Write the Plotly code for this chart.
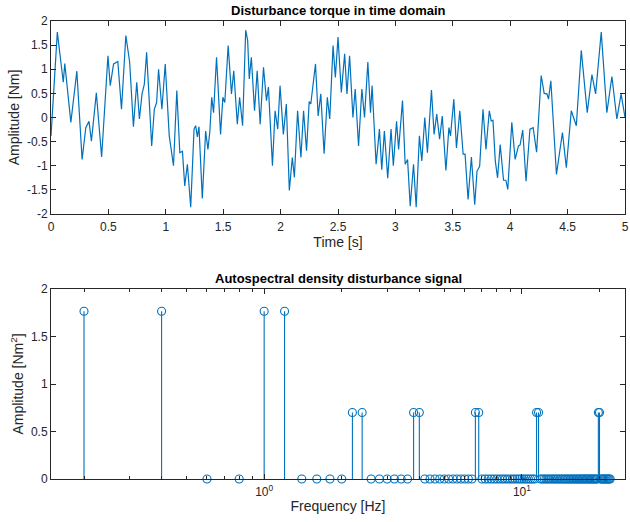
import plotly.graph_objects as go

# ---------------- data: time domain ----------------
time_s = [
    0.000, 0.055, 0.107, 0.120, 0.173, 0.225, 0.271, 0.303, 0.331, 0.352,
    0.395, 0.441, 0.496, 0.516, 0.545, 0.582, 0.614, 0.652, 0.685, 0.718,
    0.747, 0.770, 0.793, 0.813, 0.833, 0.877, 0.900, 0.920, 0.937, 0.966,
    0.995, 1.030, 1.067, 1.096, 1.122, 1.145, 1.165, 1.188, 1.217, 1.246,
    1.260, 1.275, 1.289, 1.318, 1.347, 1.367, 1.384, 1.400, 1.416, 1.442,
    1.477, 1.497, 1.514, 1.543, 1.572, 1.592, 1.623, 1.643, 1.669, 1.696,
    1.713, 1.727, 1.745, 1.773, 1.796, 1.822, 1.851, 1.877, 1.894, 1.929,
    1.952, 1.975, 1.995, 2.024, 2.050, 2.076, 2.102, 2.120, 2.148, 2.177,
    2.200, 2.226, 2.249, 2.263, 2.304, 2.327, 2.350, 2.379, 2.407, 2.428,
    2.457, 2.477, 2.500, 2.529, 2.558, 2.578, 2.601, 2.630, 2.650, 2.679,
    2.708, 2.731, 2.760, 2.783, 2.797, 2.832, 2.861, 2.881, 2.904, 2.933,
    2.962, 2.982, 3.010, 3.028, 3.062, 3.085, 3.106, 3.129, 3.158, 3.181,
    3.209, 3.230, 3.256, 3.279, 3.314, 3.337, 3.360, 3.385, 3.408, 3.440,
    3.466, 3.480, 3.509, 3.532, 3.561, 3.590, 3.607, 3.633, 3.662, 3.691,
    3.711, 3.734, 3.763, 3.789, 3.818, 3.835, 3.850, 3.870, 3.890, 3.913,
    3.942, 3.962, 3.979, 4.014, 4.043, 4.072, 4.086, 4.109, 4.138, 4.172,
    4.200, 4.230, 4.270, 4.296, 4.320, 4.334, 4.354, 4.403, 4.455, 4.489,
    4.532, 4.576, 4.619, 4.671, 4.712, 4.744, 4.793, 4.842, 4.886, 4.929,
    4.966, 5.000,
]
torque_nm = [
    -0.38, 1.77, 0.73, 1.12, -0.10, 0.96, -0.87, -0.21, -0.08, -0.49,
    0.51, -0.82, 1.28, 0.66, 1.11, 1.16, 0.17, 1.70, 1.15, -0.19,
    0.73, -0.03, 0.49, 0.69, 1.35, -0.59, 0.17, 0.31, 1.00, 0.17,
    1.11, -0.38, -1.00, 0.56, -0.73, -0.70, -1.42, -0.97, -1.86, -0.24,
    -0.17, -0.40, -0.19, -1.68, -0.28, -0.66, -0.28, 0.42, 0.10, 1.25,
    -0.35, 0.42, 0.31, 1.49, 0.49, 0.97, -0.14, 0.42, -0.17, 1.81,
    1.60, 0.80, 1.25, 0.14, 0.97, -0.14, 1.04, 0.35, 0.63, -1.00,
    0.14, -0.24, 0.66, -0.35, 0.28, -1.51, -0.83, -1.24, 0.14, -0.83,
    0.14, -0.69, 0.33, 0.28, 1.11, 0.03, 0.49, -0.75, 0.42, -0.03,
    1.49, 0.83, 1.67, 0.52, 1.32, 0.49, 1.28, 0.00, 0.59, -0.59,
    0.59, 0.00, 1.15, 0.10, 0.66, -0.97, -0.24, -1.08, -0.28, -1.26,
    -0.24, -1.00, -0.08, -0.66, 0.35, -0.97, -0.87, -1.84, -0.97, -1.86,
    -0.38, -0.90, 0.00, -0.73, 0.57, -0.35, 0.07, -0.45, 0.03, -1.10,
    -0.21, -0.38, 0.38, -0.63, 0.14, -0.76, -0.76, -1.70, -0.82, -1.81,
    -1.11, -1.01, 0.17, -0.66, 0.14, -0.07, -0.06, -0.90, -1.25, -0.56,
    -1.30, -1.30, -1.49, -0.10, -0.87, -0.59, -0.57, -0.26, -1.32, -0.24,
    -0.21, -0.72, 0.87, 0.50, 0.49, 0.38, 0.76, -1.18, -0.31, -1.04,
    0.14, -0.17, 1.39, 0.10, 0.89, 0.49, 1.77, 0.10, 0.85, -0.03,
    0.49, 0.00,
]

# ---------------- data: autospectral density ----------------
freq_hz = [
    0.2, 0.4, 0.6, 0.8, 1.0, 1.2, 1.4, 1.6, 1.8, 2.0,
    2.2, 2.4, 2.6, 2.8, 3.0, 3.2, 3.4, 3.6, 3.8, 4.0,
    4.2, 4.4, 4.6, 4.8, 5.0, 5.2, 5.4, 5.6, 5.8, 6.0,
    6.2, 6.4, 6.6, 6.8, 7.0, 7.2, 7.4, 7.6, 7.8, 8.0,
    8.2, 8.4, 8.6, 8.8, 9.0, 9.2, 9.4, 9.6, 9.8, 10.0,
    10.2, 10.4, 10.6, 10.8, 11.0, 11.2, 11.4, 11.6, 11.8, 12.0,
    12.2, 12.4, 12.6, 12.8, 13.0, 13.2, 13.4, 13.6, 13.8, 14.0,
    14.2, 14.4, 14.6, 14.8, 15.0, 15.2, 15.4, 15.6, 15.8, 16.0,
    16.2, 16.4, 16.6, 16.8, 17.0, 17.2, 17.4, 17.6, 17.8, 18.0,
    18.2, 18.4, 18.6, 18.8, 19.0, 19.2, 19.4, 19.6, 19.8, 20.0,
    20.2, 20.4, 20.6, 20.8, 21.0, 21.2, 21.4, 21.6, 21.8, 22.0,
]
peak_freq_hz = [0.2, 0.4, 1.0, 1.2, 2.2, 2.4, 3.8, 4.0, 6.6, 6.8, 11.4, 11.6, 19.8, 20.0]
peak_amp = [1.766, 1.766, 1.766, 1.766, 0.70, 0.70, 0.70, 0.70, 0.70, 0.70, 0.70, 0.70, 0.70, 0.70]

peaks = dict(zip(peak_freq_hz, peak_amp))
psd = [peaks.get(f, 0.0) for f in freq_hz]

# tick labels
t_ticks = [0, 0.5, 1, 1.5, 2, 2.5, 3, 3.5, 4, 4.5, 5]
t_ticktext = ["0", "0.5", "1", "1.5", "2", "2.5", "3", "3.5", "4", "4.5", "5"]
amp_ticks = [-2, -1.5, -1, -0.5, 0, 0.5, 1, 1.5, 2]
amp_ticktext = ["-2", "-1.5", "-1", "-0.5", "0", "0.5", "1", "1.5", "2"]
psd_ticks = [0, 0.5, 1, 1.5, 2]
psd_ticktext = ["0", "0.5", "1", "1.5", "2"]
f_ticks = [1, 10]
f_ticktext = ["10<sup>0</sup>", "10<sup>1</sup>"]
f_minor = [0.2, 0.3, 0.4, 0.5, 0.6, 0.7, 0.8, 0.9, 2, 3, 4, 5, 6, 7, 8, 9, 20]

BLUE = "#0072BD"
AX = "#262626"
FONT = "Liberation Sans, Arial, Helvetica, sans-serif"

fig = go.Figure()
fig.add_trace(go.Scatter(
    x=time_s, y=torque_nm, mode="lines",
    line=dict(color=BLUE, width=1.2),
    xaxis="x", yaxis="y", showlegend=False, hoverinfo="skip"))

fig.add_trace(go.Scatter(
    x=freq_hz, y=psd, mode="markers",
    marker=dict(symbol="circle-open", size=8, color=BLUE, line=dict(width=1.1, color=BLUE)),
    error_y=dict(type="data", symmetric=False, array=[0] * len(psd), arrayminus=psd,
                 width=0, thickness=1.1, color=BLUE),
    xaxis="x2", yaxis="y2", showlegend=False, hoverinfo="skip", cliponaxis=False))

common = dict(showline=True, mirror="ticks", linecolor=AX, linewidth=1,
              ticks="inside", ticklen=5, tickcolor=AX, tickwidth=1,
              showgrid=False, zeroline=False, automargin=False,
              ticklabeloverflow="allow",
              tickfont=dict(family=FONT, size=12, color=AX),
              title_font=dict(family=FONT, size=14, color=AX))

fig.update_layout(
    width=630, height=522,
    margin=dict(l=51, r=5, t=21, b=43),
    paper_bgcolor="white", plot_bgcolor="white",
    font=dict(family=FONT, color=AX),
    xaxis=dict(domain=[0, 1], anchor="y", range=[0, 5], tickmode="array",
               tickvals=t_ticks, ticktext=t_ticktext, ticklabelstandoff=2,
               title=dict(text="Time [s]", standoff=0), **common),
    yaxis=dict(domain=[0.5786, 1], anchor="x", range=[-2, 2], tickmode="array",
               tickvals=amp_ticks, ticktext=amp_ticktext,
               title=dict(text="Amplitude [Nm]", standoff=4), **common),
    xaxis2=dict(domain=[0, 1], anchor="y2", type="log", range=[-0.827, 1.400],
                tickmode="array", tickvals=f_ticks, ticktext=f_ticktext,
                ticklabelstandoff=2,
                minor=dict(tickmode="array", tickvals=f_minor, ticks="inside",
                           ticklen=3, tickcolor=AX, showgrid=False),
                title=dict(text="Frequency [Hz]", standoff=2), **common),
    yaxis2=dict(domain=[0, 0.4148], anchor="x2", range=[0, 2], tickmode="array",
                tickvals=psd_ticks, ticktext=psd_ticktext,
                title=dict(text="Amplitude [Nm<sup>2</sup>]", standoff=4), **common),
    annotations=[
        dict(text="<b>Disturbance torque in time domain</b>", xref="paper", yref="paper",
             x=0.5, y=1.024, xanchor="center", yanchor="middle", showarrow=False,
             font=dict(family=FONT, size=13, color="black")),
        dict(text="<b>Autospectral density disturbance signal</b>", xref="paper", yref="paper",
             x=0.5, y=0.4367, xanchor="center", yanchor="middle", showarrow=False,
             font=dict(family=FONT, size=13, color="black")),
    ],
)

fig.write_html("out.html", config={"displayModeBar": False, "staticPlot": True},
               post_script="document.body.style.margin='0';")
